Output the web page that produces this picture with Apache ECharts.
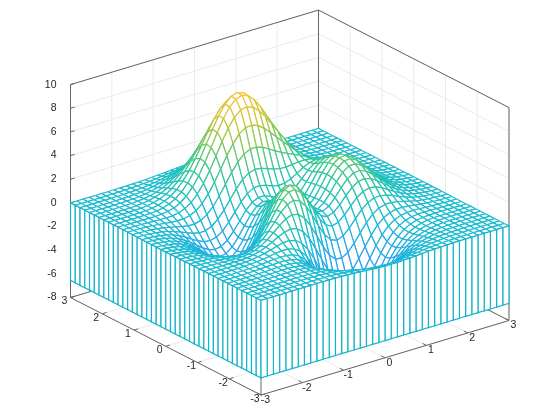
<!DOCTYPE html>
<html>
<head>
<meta charset="utf-8">
<style>html,body{margin:0;padding:0;background:#fff}#main{width:560px;height:420px}</style>
<script src="https://cdn.jsdelivr.net/npm/echarts@6/dist/echarts.min.js"></script>
</head>
<body>
<div id="main"></div>
<script>
var xValues = [-3,-2.85,-2.7,-2.55,-2.4,-2.25,-2.1,-1.95,-1.8,-1.65,-1.5,-1.35,-1.2,-1.05,-.9,-.75,-.6,-.45,-.3,-.15,0,.15,.3,.45,.6,.75,.9,1.05,1.2,1.35,1.5,1.65,1.8,1.95,2.1,2.25,2.4,2.55,2.7,2.85,3];
var yValues = xValues;
var xTicks = [-3,-2,-1,0,1,2,3];
var yTicks = [-3,-2,-1,0,1,2,3];
var zTicks = [-8,-6,-4,-2,0,2,4,6,8,10];
var zFloor = -8, zTop = 10, skirtBottom = -6.55;

// heights, one row per y value, one column per x value
var zRows = [
[0,0,0,0,0,0,0,0,.01,.01,0,0,-.01,-.02,-.05,-.08,-.11,-.15,-.19,-.22,-.25,-.25,-.25,-.23,-.2,-.17,-.13,-.1,-.07,-.05,-.03,-.02,-.01,-.01,0,0,0,0,0,0,0],
[0,0,0,0,0,0,0,.01,.01,.01,0,0,-.02,-.05,-.09,-.15,-.21,-.29,-.36,-.42,-.46,-.48,-.47,-.43,-.38,-.31,-.25,-.18,-.13,-.09,-.06,-.03,-.02,-.01,-.01,0,0,0,0,0,0],
[0,0,0,0,0,0,.01,.01,.01,.01,0,-.01,-.04,-.09,-.17,-.27,-.38,-.51,-.63,-.74,-.81,-.84,-.82,-.76,-.66,-.55,-.43,-.32,-.23,-.15,-.1,-.06,-.03,-.02,-.01,0,0,0,0,0,0],
[0,0,0,0,0,.01,.01,.01,.02,.01,0,-.03,-.08,-.16,-.29,-.45,-.65,-.86,-1.06,-1.23,-1.35,-1.39,-1.36,-1.26,-1.1,-.91,-.72,-.53,-.38,-.25,-.16,-.09,-.05,-.03,-.01,-.01,0,0,0,0,0],
[0,0,0,0,.01,.01,.02,.02,.02,.02,0,-.04,-.12,-.25,-.45,-.7,-1,-1.32,-1.64,-1.91,-2.09,-2.15,-2.1,-1.94,-1.7,-1.41,-1.11,-.82,-.58,-.39,-.24,-.14,-.08,-.04,-.02,-.01,0,0,0,0,0],
[0,0,0,0,.01,.01,.02,.03,.04,.03,.01,-.05,-.17,-.36,-.63,-.99,-1.43,-1.9,-2.36,-2.76,-3.02,-3.13,-3.06,-2.83,-2.47,-2.05,-1.61,-1.19,-.84,-.56,-.35,-.21,-.11,-.06,-.03,-.01,-.01,0,0,0,0],
[0,0,0,.01,.01,.02,.03,.04,.05,.05,.02,-.05,-.2,-.44,-.81,-1.29,-1.88,-2.52,-3.16,-3.7,-4.07,-4.23,-4.14,-3.84,-3.36,-2.78,-2.18,-1.61,-1.13,-.74,-.46,-.27,-.15,-.07,-.03,-.01,-.01,0,0,0,0],
[0,0,0,.01,.01,.02,.04,.06,.08,.08,.06,-.02,-.18,-.47,-.91,-1.5,-2.24,-3.05,-3.87,-4.57,-5.08,-5.3,-5.21,-4.84,-4.24,-3.51,-2.74,-2.02,-1.4,-.91,-.56,-.32,-.17,-.08,-.03,-.01,0,0,0,0,0],
[0,0,0,.01,.02,.03,.05,.08,.1,.13,.12,.06,-.09,-.39,-.86,-1.53,-2.38,-3.34,-4.32,-5.2,-5.83,-6.14,-6.08,-5.66,-4.97,-4.11,-3.19,-2.34,-1.6,-1.03,-.61,-.34,-.17,-.07,-.02,0,0,0,0,0,0],
[0,0,0,.01,.02,.03,.05,.09,.14,.19,.22,.2,.1,-.15,-.6,-1.27,-2.16,-3.2,-4.3,-5.31,-6.08,-6.49,-6.49,-6.08,-5.34,-4.41,-3.41,-2.46,-1.65,-1.03,-.58,-.29,-.12,-.04,0,.01,.01,.01,.01,0,0],
[0,0,0,0,.01,.03,.05,.1,.16,.24,.33,.39,.38,.24,-.1,-.68,-1.51,-2.55,-3.7,-4.79,-5.68,-6.21,-6.31,-5.96,-5.26,-4.32,-3.29,-2.32,-1.5,-.87,-.44,-.17,-.03,.03,.05,.05,.03,.02,.01,.01,0],
[0,0,0,0,0,.01,.03,.08,.16,.27,.42,.58,.71,.74,.59,.2,-.47,-1.4,-2.51,-3.64,-4.61,-5.27,-5.49,-5.27,-4.66,-3.79,-2.82,-1.9,-1.12,-.55,-.17,.04,.13,.15,.13,.09,.06,.04,.02,.01,.01],
[0,-.01,-.01,-.02,-.02,-.02,-.01,.02,.1,.24,.45,.71,1,1.24,1.35,1.23,.81,.07,-.91,-2.01,-3.04,-3.81,-4.18,-4.11,-3.64,-2.89,-2.03,-1.21,-.53,-.06,.22,.34,.35,.3,.23,.15,.1,.06,.03,.02,.01],
[-.01,-.01,-.02,-.04,-.06,-.08,-.09,-.08,-.02,.12,.36,.71,1.15,1.61,2,2.19,2.07,1.59,.78,-.24,-1.29,-2.15,-2.65,-2.73,-2.41,-1.8,-1.06,-.36,.19,.55,.71,.71,.62,.49,.35,.23,.14,.08,.05,.02,.01],
[-.01,-.02,-.04,-.07,-.11,-.16,-.21,-.24,-.22,-.12,.12,.52,1.07,1.72,2.37,2.86,3.05,2.84,2.23,1.32,.29,-.63,-1.23,-1.43,-1.21,-.71,-.07,.53,.97,1.21,1.24,1.13,.93,.7,.49,.32,.2,.11,.06,.03,.02],
[-.02,-.03,-.06,-.1,-.17,-.25,-.36,-.45,-.51,-.47,-.28,.11,.72,1.5,2.34,3.09,3.55,3.59,3.17,2.38,1.4,.47,-.18,-.43,-.26,.2,.8,1.34,1.71,1.85,1.78,1.55,1.24,.92,.64,.41,.25,.15,.08,.04,.02],
[-.02,-.04,-.08,-.14,-.23,-.36,-.53,-.7,-.86,-.92,-.82,-.48,.12,.96,1.93,2.85,3.52,3.77,3.52,2.84,1.93,1.03,.39,.17,.36,.85,1.47,2.01,2.35,2.43,2.27,1.94,1.54,1.13,.78,.5,.31,.18,.1,.05,.02],
[-.03,-.05,-.1,-.18,-.3,-.47,-.7,-.96,-1.22,-1.4,-1.41,-1.18,-.63,.2,1.23,2.26,3.08,3.48,3.37,2.8,1.97,1.13,.56,.4,.67,1.25,1.93,2.52,2.86,2.91,2.69,2.28,1.8,1.32,.91,.58,.36,.2,.11,.06,.03],
[-.03,-.06,-.12,-.21,-.36,-.57,-.86,-1.2,-1.56,-1.85,-1.99,-1.87,-1.41,-.62,.41,1.49,2.39,2.9,2.91,2.44,1.7,.96,.47,.41,.78,1.45,2.22,2.86,3.23,3.27,3.01,2.55,2.01,1.47,1.01,.65,.4,.23,.12,.06,.03],
[-.03,-.07,-.13,-.24,-.4,-.64,-.98,-1.38,-1.82,-2.22,-2.46,-2.45,-2.09,-1.37,-.37,.72,1.67,2.25,2.34,1.98,1.34,.69,.3,.33,.79,1.55,2.39,3.07,3.46,3.49,3.21,2.71,2.13,1.56,1.08,.69,.42,.24,.13,.07,.03],
[-.04,-.07,-.14,-.25,-.43,-.69,-1.05,-1.49,-1.98,-2.44,-2.77,-2.85,-2.58,-1.94,-1,.06,1.02,1.64,1.8,1.53,.98,.43,.13,.24,.77,1.57,2.44,3.14,3.53,3.56,3.27,2.76,2.17,1.59,1.1,.7,.43,.25,.13,.07,.03],
[-.04,-.07,-.14,-.25,-.43,-.69,-1.06,-1.51,-2.02,-2.52,-2.9,-3.04,-2.84,-2.29,-1.43,-.43,.5,1.12,1.33,1.13,.68,.22,0,.17,.72,1.53,2.38,3.07,3.45,3.48,3.19,2.7,2.12,1.55,1.07,.68,.42,.24,.13,.07,.03],
[-.03,-.07,-.13,-.24,-.41,-.66,-1.01,-1.45,-1.95,-2.44,-2.83,-3.01,-2.87,-2.4,-1.64,-.72,.13,.74,.96,.83,.46,.09,-.06,.13,.67,1.43,2.24,2.88,3.23,3.25,2.98,2.52,1.98,1.44,.99,.64,.39,.22,.12,.06,.03],
[-.03,-.06,-.12,-.21,-.37,-.59,-.92,-1.32,-1.78,-2.23,-2.6,-2.78,-2.68,-2.28,-1.61,-.8,-.02,.54,.78,.7,.42,.12,0,.19,.67,1.35,2.06,2.62,2.92,2.92,2.67,2.25,1.77,1.29,.89,.57,.35,.2,.11,.06,.03],
[-.03,-.05,-.1,-.18,-.32,-.51,-.79,-1.13,-1.53,-1.92,-2.23,-2.38,-2.29,-1.92,-1.32,-.59,.13,.66,.92,.9,.69,.45,.35,.48,.85,1.39,1.94,2.37,2.59,2.56,2.32,1.95,1.52,1.11,.76,.49,.3,.17,.09,.05,.02],
[-.02,-.04,-.08,-.15,-.26,-.41,-.64,-.91,-1.23,-1.53,-1.76,-1.84,-1.71,-1.34,-.75,-.05,.65,1.2,1.51,1.56,1.42,1.22,1.09,1.12,1.33,1.65,1.99,2.24,2.33,2.24,1.99,1.65,1.28,.93,.63,.4,.24,.14,.08,.04,.02],
[-.02,-.03,-.06,-.12,-.2,-.32,-.48,-.68,-.9,-1.1,-1.23,-1.21,-1,-.56,.07,.81,1.55,2.17,2.57,2.72,2.65,2.47,2.28,2.15,2.13,2.18,2.25,2.27,2.19,2,1.72,1.39,1.06,.76,.51,.32,.2,.11,.06,.03,.01],
[-.01,-.02,-.05,-.08,-.14,-.22,-.33,-.46,-.59,-.68,-.69,-.55,-.22,.31,1.04,1.87,2.72,3.45,3.97,4.23,4.24,4.06,3.77,3.46,3.17,2.92,2.69,2.45,2.17,1.86,1.52,1.19,.88,.62,.41,.26,.15,.09,.05,.02,.01],
[-.01,-.02,-.03,-.05,-.09,-.14,-.2,-.27,-.31,-.3,-.19,.07,.51,1.17,2,2.96,3.93,4.79,5.45,5.82,5.89,5.7,5.31,4.81,4.27,3.72,3.2,2.7,2.23,1.79,1.39,1.04,.74,.5,.33,.2,.12,.07,.03,.02,.01],
[-.01,-.01,-.02,-.03,-.05,-.08,-.1,-.11,-.09,0,.21,.56,1.11,1.86,2.79,3.85,4.92,5.9,6.66,7.12,7.24,7.04,6.57,5.92,5.16,4.38,3.62,2.91,2.29,1.74,1.29,.92,.63,.42,.26,.16,.09,.05,.03,.01,.01],
[0,-.01,-.01,-.02,-.02,-.03,-.03,0,.07,.22,.48,.89,1.5,2.3,3.28,4.37,5.49,6.52,7.33,7.84,8,7.79,7.28,6.53,5.65,4.72,3.82,2.99,2.27,1.67,1.19,.81,.54,.34,.21,.12,.07,.04,.02,.01,0],
[0,0,0,-.01,0,0,.02,.07,.16,.34,.62,1.05,1.65,2.44,3.4,4.46,5.55,6.55,7.35,7.87,8.03,7.84,7.32,6.56,5.65,4.68,3.73,2.87,2.13,1.53,1.06,.71,.46,.28,.17,.1,.05,.03,.01,.01,0],
[0,0,0,0,.01,.02,.04,.1,.2,.37,.64,1.05,1.61,2.33,3.19,4.15,5.13,6.04,6.78,7.25,7.41,7.23,6.76,6.05,5.19,4.28,3.39,2.58,1.89,1.34,.91,.59,.37,.23,.13,.07,.04,.02,.01,0,0],
[0,0,0,0,.01,.02,.05,.1,.2,.35,.59,.93,1.4,2.01,2.74,3.54,4.37,5.13,5.75,6.15,6.29,6.14,5.74,5.14,4.4,3.62,2.85,2.16,1.57,1.1,.74,.47,.29,.18,.1,.06,.03,.01,.01,0,0],
[0,0,0,0,.01,.02,.05,.09,.17,.29,.48,.76,1.13,1.61,2.18,2.81,3.45,4.05,4.54,4.86,4.96,4.85,4.53,4.06,3.47,2.85,2.24,1.69,1.22,.85,.56,.36,.22,.13,.07,.04,.02,.01,.01,0,0],
[0,0,0,0,.01,.02,.04,.07,.13,.22,.36,.57,.84,1.19,1.61,2.07,2.54,2.98,3.34,3.57,3.65,3.57,3.33,2.98,2.55,2.09,1.64,1.23,.89,.61,.41,.26,.16,.09,.05,.03,.01,.01,0,0,0],
[0,0,0,0,.01,.01,.03,.05,.09,.16,.25,.39,.58,.82,1.11,1.42,1.75,2.05,2.29,2.45,2.51,2.45,2.29,2.05,1.75,1.43,1.12,.84,.61,.42,.27,.17,.11,.06,.03,.02,.01,0,0,0,0],
[0,0,0,0,0,.01,.02,.03,.06,.1,.17,.26,.38,.53,.72,.92,1.13,1.32,1.48,1.59,1.62,1.58,1.48,1.32,1.13,.93,.72,.54,.39,.27,.18,.11,.07,.04,.02,.01,.01,0,0,0,0],
[0,0,0,0,0,.01,.01,.02,.04,.06,.1,.16,.23,.32,.43,.55,.68,.8,.89,.95,.98,.95,.89,.8,.68,.56,.44,.33,.23,.16,.11,.07,.04,.02,.01,.01,0,0,0,0,0],
[0,0,0,0,0,0,.01,.01,.02,.04,.06,.09,.13,.18,.25,.32,.39,.46,.51,.55,.56,.55,.51,.46,.39,.32,.25,.19,.13,.09,.06,.04,.02,.01,.01,0,0,0,0,0,0],
[0,0,0,0,0,0,0,.01,.01,.02,.03,.05,.07,.1,.13,.17,.21,.25,.27,.29,.3,.29,.27,.25,.21,.17,.13,.1,.07,.05,.03,.02,.01,.01,0,0,0,0,0,0,0]
];

// colour stops: height, r, g, b
var colorStops = [
    [-6.6, 60, 140, 248],
    [-3, 44, 160, 240],
    [-1, 30, 178, 222],
    [0, 26, 188, 208],
    [2, 42, 198, 164],
    [4, 100, 200, 108],
    [6, 196, 198, 56],
    [8.1, 248, 197, 58]
];
var skirtColor = '#16b4ca';
var axisColor = '#666666';
var gridColor = '#ebebeb';
var textColor = '#262626';
var meshWidth = 1.2;

// orthographic view of the box onto the page plane
function project(x, y, z) {
    return [
        289.75 + 41.33 * x - 31.75 * y,
        214.4 - 12.42 * x - 16.25 * y - 11.83 * z
    ];
}

function zColor(z) {
    for (var k = 1; k < colorStops.length; k++) {
        if (z <= colorStops[k][0]) {
            var a = colorStops[k - 1], b = colorStops[k];
            var t = Math.max(0, (z - a[0]) / (b[0] - a[0]));
            return 'rgb(' + Math.round(a[1] + (b[1] - a[1]) * t) + ',' +
                Math.round(a[2] + (b[2] - a[2]) * t) + ',' +
                Math.round(a[3] + (b[3] - a[3]) * t) + ')';
        }
    }
    return 'rgb(248,197,58)';
}

// box, walls and floor
var gridSegs = [], axisSegs = [];
xTicks.forEach(function (t) {
    gridSegs.push([t, 3, zFloor, t, 3, zTop]);
    gridSegs.push([t, -3, zFloor, t, 3, zFloor]);
    axisSegs.push([t, -3, zFloor, t, -2.88, zFloor]);
});
yTicks.forEach(function (t) {
    gridSegs.push([3, t, zFloor, 3, t, zTop]);
    gridSegs.push([-3, t, zFloor, 3, t, zFloor]);
    axisSegs.push([-3, t, zFloor, -2.9, t, zFloor]);
});
zTicks.forEach(function (t) {
    gridSegs.push([-3, 3, t, 3, 3, t]);
    gridSegs.push([3, 3, t, 3, -3, t]);
    axisSegs.push([-3, 3, t, -2.9, 3, t]);
});
axisSegs.push(
    [-3, 3, zFloor, -3, 3, zTop], [3, 3, zFloor, 3, 3, zTop], [3, -3, zFloor, 3, -3, zTop], [-3, -3, zFloor, -3, -3, skirtBottom],
    [-3, 3, zTop, 3, 3, zTop], [3, 3, zTop, 3, -3, zTop],
    [-3, 3, zFloor, -3, -3, zFloor], [-3, -3, zFloor, 3, -3, zFloor], [-3, 3, zFloor, 3, 3, zFloor], [3, 3, zFloor, 3, -3, zFloor]
);

function segSeries(segs, color, z) {
    return {
        type: 'custom',
        coordinateSystem: 'cartesian2d',
        silent: true,
        z: z,
        clip: false,
        data: segs,
        encode: { x: 0, y: 1 },
        renderItem: function (params, api) {
            var a = api.coord(project(api.value(0), api.value(1), api.value(2)));
            var b = api.coord(project(api.value(3), api.value(4), api.value(5)));
            return {
                type: 'line',
                shape: { x1: a[0], y1: a[1], x2: b[0], y2: b[1] },
                style: { stroke: color, lineWidth: 1, fill: null }
            };
        }
    };
}

// back cells first so nearer ones paint over them
var cells = [];
for (var j = yValues.length - 2; j >= 0; j--) {
    for (var i = xValues.length - 2; i >= 0; i--) {
        cells.push([i, j]);
    }
}

function renderCell(params, api) {
    var i = api.value(0), j = api.value(1);
    var idx = [[i, j], [i + 1, j], [i + 1, j + 1], [i, j + 1]];
    var pts = idx.map(function (p) {
        return api.coord(project(xValues[p[0]], yValues[p[1]], zRows[p[1]][p[0]]));
    });
    var children = [{
        type: 'polygon',
        shape: { points: pts },
        style: { fill: '#ffffff', stroke: null }
    }];
    for (var k = 0; k < 4; k++) {
        var n = (k + 1) % 4;
        var zm = (zRows[idx[k][1]][idx[k][0]] + zRows[idx[n][1]][idx[n][0]]) / 2;
        children.push({
            type: 'line',
            shape: { x1: pts[k][0], y1: pts[k][1], x2: pts[n][0], y2: pts[n][1] },
            style: { stroke: zColor(zm), lineWidth: meshWidth, fill: null }
        });
    }
    return { type: 'group', children: children };
}

// skirt panels hanging from the two near edges
var skirt = [];
for (var s = yValues.length - 2; s >= 0; s--) skirt.push([0, s, 0, s + 1]);
for (var r = xValues.length - 2; r >= 0; r--) skirt.push([r, 0, r + 1, 0]);

function renderSkirt(params, api) {
    var i1 = api.value(0), j1 = api.value(1), i2 = api.value(2), j2 = api.value(3);
    var a = api.coord(project(xValues[i1], yValues[j1], zRows[j1][i1]));
    var b = api.coord(project(xValues[i2], yValues[j2], zRows[j2][i2]));
    var c = api.coord(project(xValues[i2], yValues[j2], skirtBottom));
    var d = api.coord(project(xValues[i1], yValues[j1], skirtBottom));
    return {
        type: 'group',
        children: [{
            type: 'polygon',
            shape: { points: [a, b, c, d] },
            style: { fill: '#ffffff', stroke: skirtColor, lineWidth: meshWidth }
        }]
    };
}

// tick labels: value, anchor in 3D, page offset, alignment
var labels = [];
zTicks.forEach(function (t) { labels.push([String(t), -3, 3, t, -14, 0, 'right']); });
yTicks.forEach(function (t) { labels.push([String(t), -3, t, zFloor, -6, 4, 'center']); });
xTicks.forEach(function (t) { labels.push([String(t), t, -3, zFloor, 4.5, 5, 'center']); });

var myChart = echarts.init(document.getElementById('main'), null, { renderer: 'canvas' });
myChart.setOption({
    animation: false,
    backgroundColor: '#ffffff',
    grid: { left: 0, right: 0, top: 0, bottom: 0 },
    xAxis: { type: 'value', min: 0, max: 560, show: false },
    yAxis: { type: 'value', min: 0, max: 420, inverse: true, show: false },
    series: [
        segSeries(gridSegs, gridColor, 1),
        segSeries(axisSegs, axisColor, 2),
        {
            type: 'custom',
            coordinateSystem: 'cartesian2d',
            silent: true,
            z: 3,
            clip: false,
            progressive: 0,
            data: cells,
            encode: { x: 0, y: 1 },
            renderItem: renderCell
        },
        {
            type: 'custom',
            coordinateSystem: 'cartesian2d',
            silent: true,
            z: 4,
            clip: false,
            progressive: 0,
            data: skirt,
            encode: { x: 0, y: 1 },
            renderItem: renderSkirt
        },
        {
            type: 'custom',
            coordinateSystem: 'cartesian2d',
            silent: true,
            z: 5,
            clip: false,
            data: labels.map(function (l, k) { return [k]; }),
            encode: { x: 0 },
            renderItem: function (params, api) {
                var l = labels[api.value(0)];
                var p = api.coord(project(l[1], l[2], l[3]));
                return {
                    type: 'text',
                    x: p[0] + l[4],
                    y: p[1] + l[5],
                    style: {
                        text: l[0],
                        fill: textColor,
                        font: '10.5px "Liberation Sans", Arial, sans-serif',
                        align: l[6],
                        verticalAlign: 'middle'
                    }
                };
            }
        }
    ]
});
</script>
</body>
</html>
